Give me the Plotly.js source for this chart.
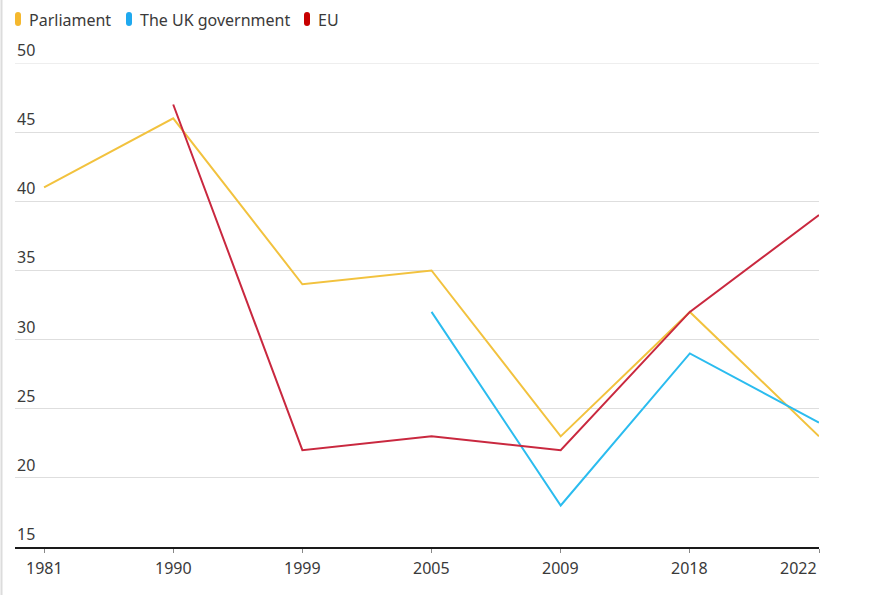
<!DOCTYPE html>
<html>
<head>
<meta charset="utf-8">
<script src="https://cdn.plot.ly/plotly-3.0.1.min.js"></script>
<style>
  html, body { margin: 0; padding: 0; background: #ffffff; }
  #chart { width: 870px; height: 595px; }
</style>
</head>
<body>
<div id="chart"></div>
<script>
// Survey years (evenly spaced categories on the x axis)
const years = ['1981', '1990', '1999', '2005', '2009', '2018', '2022'];

// Series values, one per year (null where the question was not asked)
const parliament = [41, 46, 34, 35, 23, 32, 23];
const ukGovernment = [null, null, null, 32, 18, 29, 24];
const eu = [null, 47, 22, 23, 22, 32, 39];

const seriesNames = ['Parliament', 'The UK government', 'EU'];
const yTicks = [15, 20, 25, 30, 35, 40, 45, 50];

const colors = ['#f2c23e', '#2bbcef', '#c9283f'];
const legendColors = ['#f5b82e', '#1fa9ef', '#c70000'];
const textColor = '#3a3a3a';
const gridColor = '#dedede';
const fontFamily = 'Noto Sans, sans-serif';

const traces = [parliament, ukGovernment, eu].map((vals, i) => ({
  type: 'scatter',
  mode: 'lines',
  x: years,
  y: vals,
  name: seriesNames[i],
  line: { color: colors[i], width: 2 },
  connectgaps: false,
  hoverinfo: 'x+y+name'
}));

// Plot area spans 15..819 px horizontally and 63..547 px vertically
const plotLeft = 15, plotRight = 819, plotTop = 63, plotBottom = 547;
const W = 870, H = 595;
const pw = plotRight - plotLeft, ph = plotBottom - plotTop;
const px = v => (v - plotLeft) / pw;
const py = v => (plotBottom - v) / ph;

// Custom legend: rounded pill swatch followed by label
const legendItems = [
  { x: 18, textX: 27 },
  { x: 129, textX: 138 },
  { x: 307, textX: 316 }
];
const pill = 'M -3 -4 Q -3 -7 0 -7 Q 3 -7 3 -4 L 3 4 Q 3 7 0 7 Q -3 7 -3 4 Z';
const shapes = legendItems.map((it, i) => ({
  type: 'path',
  xref: 'paper', yref: 'paper',
  xsizemode: 'pixel', ysizemode: 'pixel',
  xanchor: px(it.x), yanchor: py(19),
  path: pill,
  fillcolor: legendColors[i],
  line: { width: 0 }
}));

// Top gridline sits on the plot edge, so draw it explicitly
shapes.push({
  type: 'line', xref: 'paper', yref: 'y',
  x0: 0, x1: 1, y0: yTicks[yTicks.length - 1], y1: yTicks[yTicks.length - 1],
  line: { color: gridColor, width: 1 },
  layer: 'below'
});

// Faint page border on the far left
shapes.push({
  type: 'line', xref: 'paper', yref: 'paper',
  x0: -plotLeft / pw + 1.5 / pw, x1: -plotLeft / pw + 1.5 / pw,
  y0: -(H - plotBottom) / ph, y1: 1 + plotTop / ph,
  line: { color: '#dcdcdc', width: 2 }
});

const annotations = legendItems.map((it, i) => ({
  xref: 'paper', yref: 'paper',
  x: px(it.textX), y: py(20),
  xanchor: 'left', yanchor: 'middle',
  text: seriesNames[i],
  showarrow: false,
  font: { family: fontFamily, size: 16, color: textColor }
}));

// Y tick labels sit just above their gridlines, flush with the left edge
yTicks.forEach(v => {
  annotations.push({
    xref: 'paper', yref: 'y',
    x: 0, y: v,
    xanchor: 'left', yanchor: 'bottom',
    text: String(v),
    showarrow: false,
    font: { family: fontFamily, size: 16, color: textColor }
  });
});

// X tick labels centred under ticks; the last one is right-aligned to the edge
years.forEach((yr, i) => {
  annotations.push({
    xref: 'x', yref: 'paper',
    x: i, y: 0,
    xanchor: i === years.length - 1 ? 'right' : 'center',
    yanchor: 'top',
    yshift: -8,
    text: yr,
    showarrow: false,
    font: { family: fontFamily, size: 16, color: textColor }
  });
});

const layout = {
  width: W, height: H,
  margin: { l: plotLeft, r: W - plotRight, t: plotTop, b: H - plotBottom },
  paper_bgcolor: '#ffffff',
  plot_bgcolor: '#ffffff',
  showlegend: false,
  font: { family: fontFamily, size: 16, color: textColor },
  xaxis: {
    type: 'category',
    range: [-0.225, 6],
    showgrid: false,
    zeroline: false,
    showline: true,
    linecolor: '#1a1a1a',
    linewidth: 1.5,
    ticks: 'outside',
    ticklen: 4,
    tickcolor: '#888888',
    tickwidth: 1,
    showticklabels: false,
    fixedrange: true
  },
  yaxis: {
    range: [15, 50],
    tickvals: yTicks,
    showticklabels: false,
    showgrid: true,
    gridcolor: gridColor,
    gridwidth: 1,
    zeroline: false,
    showline: false,
    ticks: '',
    fixedrange: true
  },
  shapes: shapes,
  annotations: annotations
};

Plotly.newPlot('chart', traces, layout, { displayModeBar: false, staticPlot: true });
</script>
</body>
</html>
